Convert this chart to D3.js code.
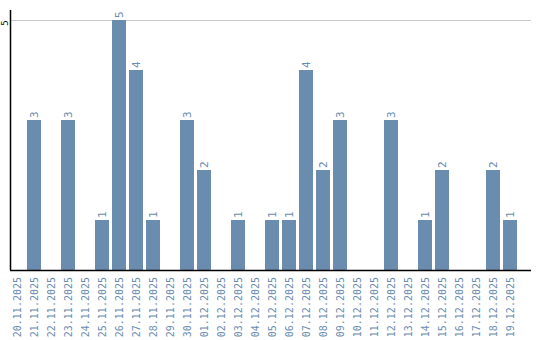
<!DOCTYPE html>
<html>
<head>
<meta charset="utf-8">
<script src="https://cdn.jsdelivr.net/npm/d3@7"></script>
<style>
  body { margin: 0; background: #fff; }
  svg { display: block; font-family: "DejaVu Sans Mono", monospace; }
</style>
</head>
<body>
<div id="chart"></div>
<script>
const width = 540;
const height = 340;

// dates shown on the x axis
const dates = [
  "20.11.2025", "21.11.2025", "22.11.2025", "23.11.2025", "24.11.2025",
  "25.11.2025", "26.11.2025", "27.11.2025", "28.11.2025", "29.11.2025",
  "30.11.2025", "01.12.2025", "02.12.2025", "03.12.2025", "04.12.2025",
  "05.12.2025", "06.12.2025", "07.12.2025", "08.12.2025", "09.12.2025",
  "10.12.2025", "11.12.2025", "12.12.2025", "13.12.2025", "14.12.2025",
  "15.12.2025", "16.12.2025", "17.12.2025", "18.12.2025", "19.12.2025"
];
// count per day
const counts = [0, 3, 0, 3, 0, 1, 5, 4, 1, 0, 3, 2, 0, 1, 0, 1, 1, 4, 2, 3, 0, 0, 3, 0, 1, 2, 0, 0, 2, 1];
const yTicks = [5];

const barColor = "#6a8caf";
const margin = { top: 10, right: 10, bottom: 70, left: 10 };

const data = dates.map((d, i) => ({ date: d, value: counts[i] }));

const svg = d3.select("#chart").append("svg")
  .attr("width", width)
  .attr("height", height);

const x = d3.scaleBand()
  .domain(dates)
  .range([margin.left, margin.left + 17 * 30 - 3])
  .paddingInner(3 / 17)
  .paddingOuter(0);

const y = d3.scaleLinear()
  .domain([0, 5])
  .range([270, 20]);

// gridlines
svg.selectAll(".grid")
  .data(yTicks)
  .join("line")
    .attr("class", "grid")
    .attr("x1", margin.left)
    .attr("x2", 531)
    .attr("y1", d => y(d) + 0.5)
    .attr("y2", d => y(d) + 0.5)
    .attr("stroke", "#c8c8c8")
    .attr("stroke-width", 1);

// y tick labels (rotated)
svg.selectAll(".ytick")
  .data(yTicks)
  .join("text")
    .attr("class", "ytick")
    .attr("transform", d => `translate(8, ${y(d) + 3}) rotate(-90)`)
    .attr("text-anchor", "middle")
    .style("font-size", "9px")
    .style("fill", "#000")
    .text(d => d);

// bars
svg.selectAll(".bar")
  .data(data.filter(d => d.value > 0))
  .join("rect")
    .attr("class", "bar")
    .attr("x", d => x(d.date))
    .attr("y", d => y(d.value))
    .attr("width", x.bandwidth())
    .attr("height", d => y(0) - y(d.value))
    .attr("fill", barColor);

// value labels
svg.selectAll(".val")
  .data(data.filter(d => d.value > 0))
  .join("text")
    .attr("class", "val")
    .attr("transform", d => `translate(${x(d.date) + x.bandwidth() / 2 + 4}, ${y(d.value) - 2}) rotate(-90)`)
    .attr("text-anchor", "start")
    .style("font-size", "11px")
    .style("fill", barColor)
    .text(d => d.value);

// axes lines
svg.append("line")
  .attr("x1", margin.left + 0.5).attr("x2", margin.left + 0.5)
  .attr("y1", 10).attr("y2", 270)
  .attr("stroke", "#000").attr("stroke-width", 1.5);
svg.append("line")
  .attr("x1", margin.left).attr("x2", 531)
  .attr("y1", 270.5).attr("y2", 270.5)
  .attr("stroke", "#000").attr("stroke-width", 1.5);

// x labels
svg.selectAll(".xlab")
  .data(dates)
  .join("text")
    .attr("class", "xlab")
    .attr("transform", d => `translate(${x(d) + x.bandwidth() / 2 + 4}, 277) rotate(-90)`)
    .attr("text-anchor", "end")
    .style("font-size", "10px")
    .style("fill", barColor)
    .text(d => d);
</script>
</body>
</html>
